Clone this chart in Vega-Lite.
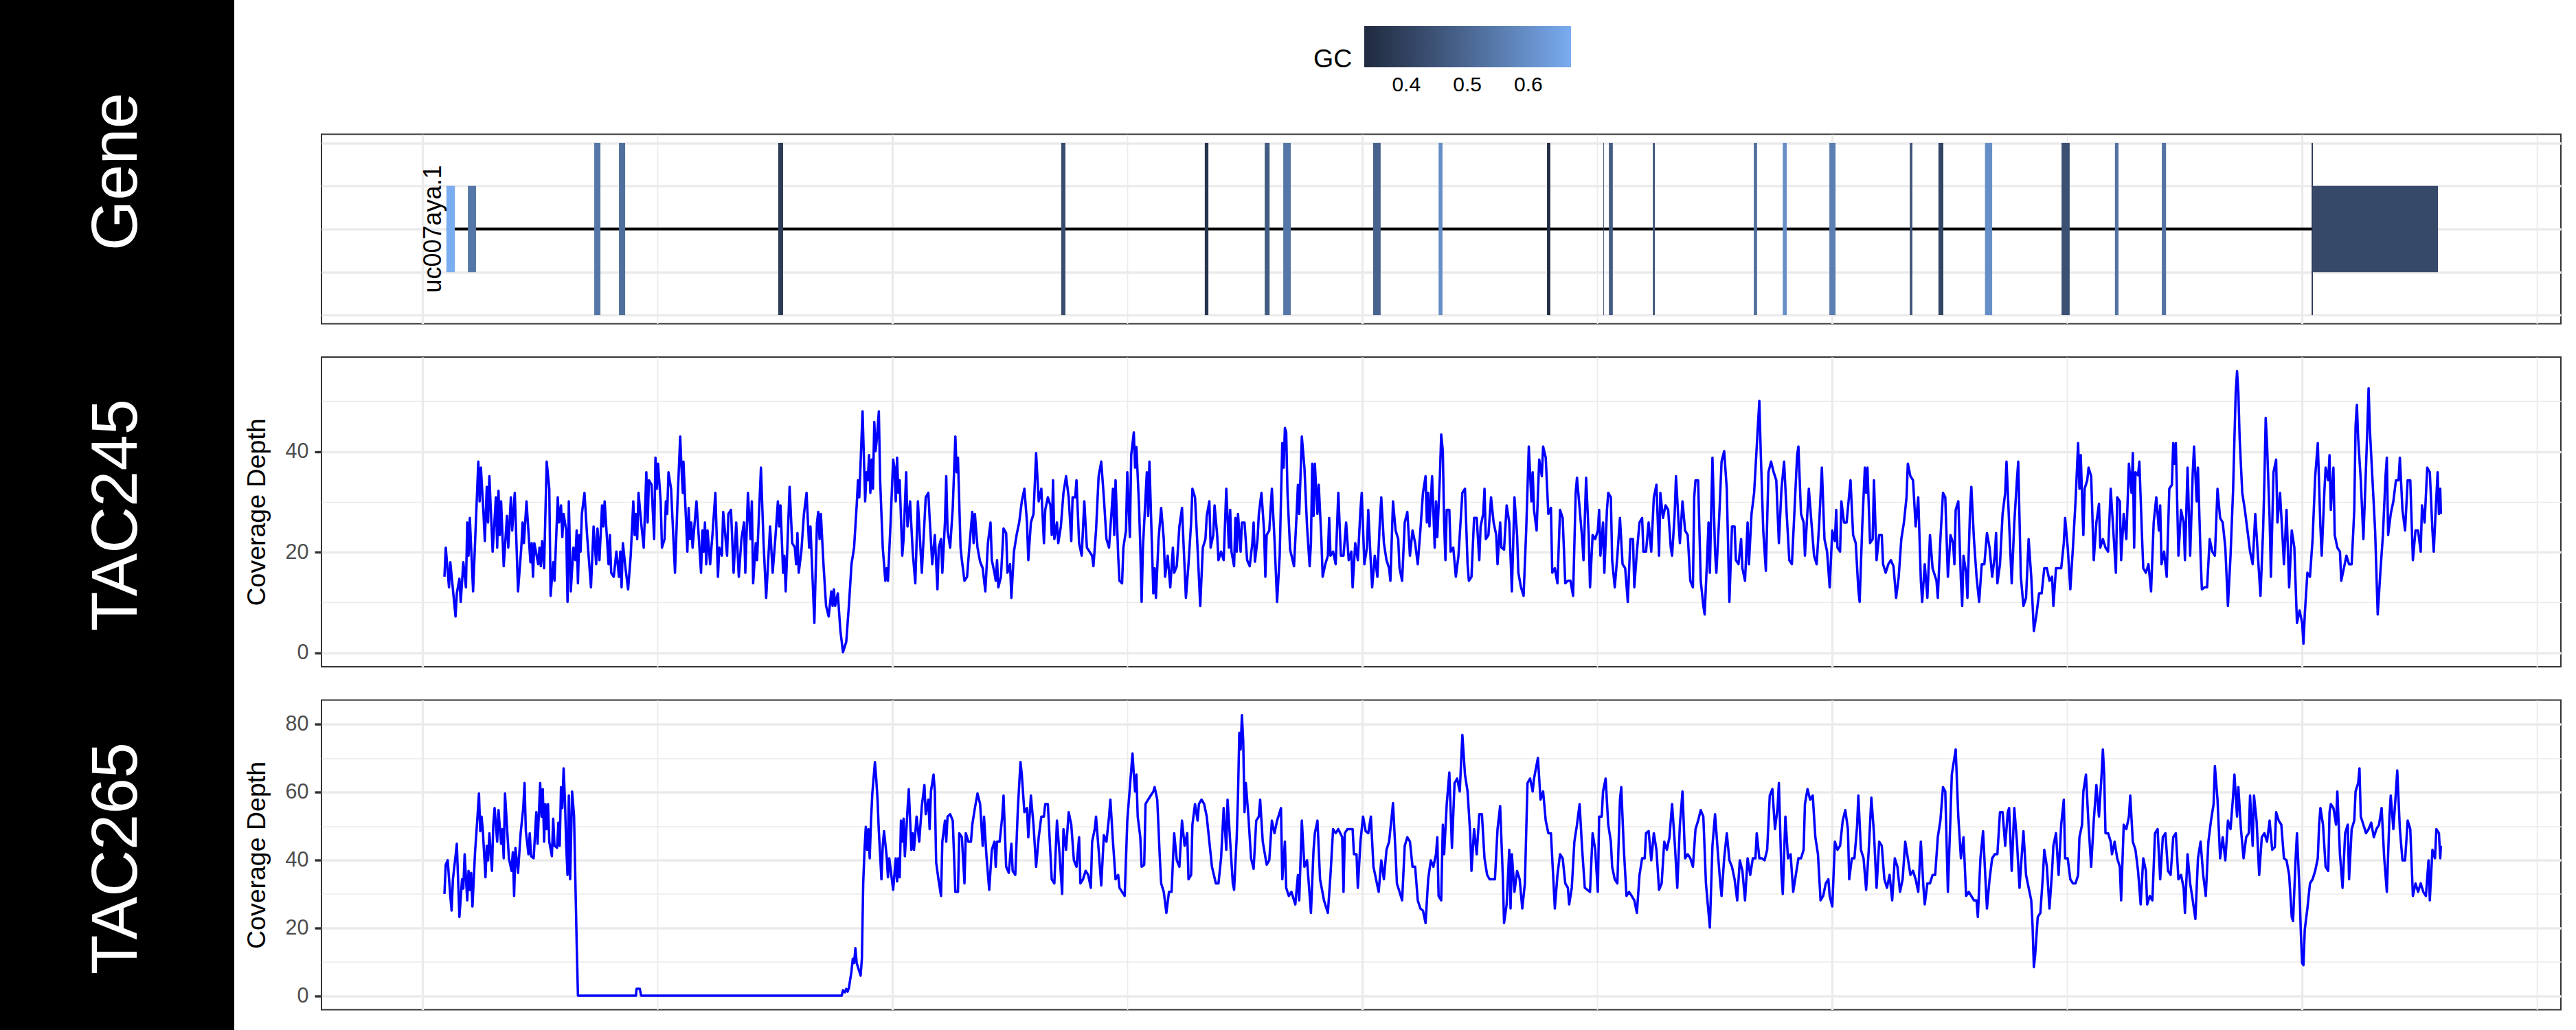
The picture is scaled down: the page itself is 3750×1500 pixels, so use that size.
{
"$schema": "https://vega.github.io/schema/vega-lite/v6.json",
"background": "white",
"padding": 0,
"bounds": "flush",
"spacing": 127,
"config": {"font": "Liberation Sans", "view": {"stroke": "#333333", "strokeWidth": 2}},
"datasets": {
"exons": [
{"start":1024,"end":1050,"GC":0.67,"type":"UTR"},
{"start":1090,"end":1115,"GC":0.54,"type":"UTR"},
{"start":1478,"end":1497,"GC":0.54,"type":"CDS"},
{"start":1554,"end":1573,"GC":0.52,"type":"CDS"},
{"start":2043,"end":2058,"GC":0.38,"type":"CDS"},
{"start":2912,"end":2925,"GC":0.43,"type":"CDS"},
{"start":3353,"end":3364,"GC":0.36,"type":"CDS"},
{"start":3537,"end":3552,"GC":0.47,"type":"CDS"},
{"start":3594,"end":3617,"GC":0.54,"type":"CDS"},
{"start":3870,"end":3893,"GC":0.49,"type":"CDS"},
{"start":4071,"end":4083,"GC":0.60,"type":"CDS"},
{"start":4404,"end":4414,"GC":0.331,"type":"CDS"},
{"start":4577,"end":4579,"GC":0.44,"type":"CDS"},
{"start":4594,"end":4606,"GC":0.47,"type":"CDS"},
{"start":4729,"end":4735,"GC":0.45,"type":"CDS"},
{"start":5039,"end":5049,"GC":0.52,"type":"CDS"},
{"start":5128,"end":5140,"GC":0.60,"type":"CDS"},
{"start":5271,"end":5290,"GC":0.56,"type":"CDS"},
{"start":5518,"end":5526,"GC":0.45,"type":"CDS"},
{"start":5606,"end":5621,"GC":0.41,"type":"CDS"},
{"start":5749,"end":5771,"GC":0.60,"type":"CDS"},
{"start":5984,"end":6009,"GC":0.44,"type":"CDS"},
{"start":6148,"end":6159,"GC":0.53,"type":"CDS"},
{"start":6292,"end":6305,"GC":0.53,"type":"CDS"},
{"start":6752,"end":6756,"GC":0.38,"type":"CDS"},
{"start":6756,"end":7140,"GC":0.42,"type":"UTR"}
],
"t245": [
{"p":1018,"d":15.1},{"p":1022,"d":20.9},{"p":1032,"d":13.0},{"p":1036,"d":18.0},{"p":1052,"d":7.2},{"p":1056,"d":11.8},{"p":1064,"d":14.7},{"p":1068,"d":10.1},{"p":1076,"d":18.0},{"p":1084,"d":13.0},{"p":1088,"d":25.9},{"p":1092,"d":19.3},{"p":1096,"d":26.8},{"p":1106,"d":12.2},{"p":1114,"d":25.1},{"p":1122,"d":38.0},{"p":1126,"d":30.1},{"p":1130,"d":36.8},{"p":1138,"d":27.6},{"p":1142,"d":22.2},{"p":1148,"d":33.0},{"p":1152,"d":25.9},{"p":1156,"d":35.1},{"p":1166,"d":20.1},{"p":1176,"d":30.9},{"p":1180,"d":20.9},{"p":1184,"d":32.2},{"p":1188,"d":23.4},{"p":1192,"d":30.1},{"p":1200,"d":17.2},{"p":1210,"d":27.2},{"p":1214,"d":20.9},{"p":1222,"d":30.9},{"p":1226,"d":24.3},{"p":1234,"d":31.8},{"p":1244,"d":12.2},{"p":1254,"d":20.9},{"p":1258,"d":25.9},{"p":1262,"d":21.8},{"p":1270,"d":30.1},{"p":1282,"d":18.0},{"p":1286,"d":21.8},{"p":1290,"d":15.1},{"p":1294,"d":21.8},{"p":1306,"d":17.6},{"p":1310,"d":20.9},{"p":1314,"d":17.2},{"p":1318,"d":22.2},{"p":1324,"d":16.8},{"p":1332,"d":38.0},{"p":1340,"d":32.6},{"p":1344,"d":11.3},{"p":1352,"d":18.0},{"p":1356,"d":14.3},{"p":1366,"d":30.9},{"p":1370,"d":25.9},{"p":1376,"d":29.3},{"p":1380,"d":23.0},{"p":1384,"d":27.6},{"p":1392,"d":24.3},{"p":1396,"d":10.1},{"p":1400,"d":30.1},{"p":1406,"d":12.2},{"p":1414,"d":20.9},{"p":1420,"d":18.4},{"p":1424,"d":24.3},{"p":1428,"d":13.8},{"p":1432,"d":23.4},{"p":1436,"d":20.1},{"p":1440,"d":27.6},{"p":1448,"d":31.8},{"p":1456,"d":23.4},{"p":1468,"d":13.0},{"p":1476,"d":25.1},{"p":1484,"d":17.6},{"p":1488,"d":24.7},{"p":1494,"d":18.4},{"p":1502,"d":29.3},{"p":1506,"d":25.1},{"p":1510,"d":30.1},{"p":1522,"d":17.6},{"p":1526,"d":23.4},{"p":1530,"d":15.9},{"p":1538,"d":15.1},{"p":1546,"d":20.1},{"p":1554,"d":15.1},{"p":1558,"d":20.1},{"p":1562,"d":13.0},{"p":1566,"d":21.8},{"p":1574,"d":16.8},{"p":1582,"d":12.6},{"p":1590,"d":19.3},{"p":1598,"d":30.1},{"p":1602,"d":23.4},{"p":1606,"d":27.6},{"p":1610,"d":22.6},{"p":1614,"d":31.8},{"p":1622,"d":25.9},{"p":1630,"d":20.9},{"p":1638,"d":35.9},{"p":1642,"d":25.9},{"p":1646,"d":34.3},{"p":1654,"d":33.4},{"p":1662,"d":22.6},{"p":1666,"d":38.8},{"p":1670,"d":32.6},{"p":1674,"d":37.6},{"p":1682,"d":30.1},{"p":1686,"d":20.9},{"p":1694,"d":22.6},{"p":1698,"d":30.1},{"p":1702,"d":27.6},{"p":1706,"d":35.9},{"p":1714,"d":32.6},{"p":1726,"d":15.9},{"p":1734,"d":30.5},{"p":1742,"d":43.0},{"p":1746,"d":36.8},{"p":1750,"d":31.8},{"p":1752,"d":38.0},{"p":1764,"d":20.1},{"p":1768,"d":28.8},{"p":1772,"d":22.6},{"p":1776,"d":25.9},{"p":1780,"d":20.9},{"p":1792,"d":30.1},{"p":1806,"d":15.9},{"p":1810,"d":24.3},{"p":1814,"d":20.1},{"p":1818,"d":25.9},{"p":1822,"d":17.6},{"p":1826,"d":24.3},{"p":1834,"d":17.6},{"p":1842,"d":24.3},{"p":1850,"d":31.8},{"p":1858,"d":15.1},{"p":1862,"d":20.9},{"p":1870,"d":19.3},{"p":1874,"d":28.0},{"p":1886,"d":19.3},{"p":1890,"d":27.6},{"p":1898,"d":28.4},{"p":1906,"d":15.9},{"p":1914,"d":25.9},{"p":1922,"d":15.1},{"p":1930,"d":22.6},{"p":1938,"d":25.9},{"p":1942,"d":15.9},{"p":1950,"d":31.8},{"p":1958,"d":22.6},{"p":1962,"d":30.1},{"p":1966,"d":13.8},{"p":1974,"d":21.8},{"p":1978,"d":18.4},{"p":1990,"d":36.8},{"p":1998,"d":21.8},{"p":2006,"d":10.9},{"p":2018,"d":25.1},{"p":2026,"d":15.9},{"p":2034,"d":22.6},{"p":2042,"d":30.1},{"p":2046,"d":25.1},{"p":2050,"d":29.3},{"p":2058,"d":15.9},{"p":2062,"d":19.3},{"p":2066,"d":12.2},{"p":2078,"d":33.0},{"p":2086,"d":21.8},{"p":2094,"d":20.9},{"p":2098,"d":17.6},{"p":2102,"d":23.8},{"p":2106,"d":15.9},{"p":2114,"d":20.1},{"p":2122,"d":27.6},{"p":2130,"d":31.8},{"p":2138,"d":20.9},{"p":2142,"d":25.1},{"p":2154,"d":5.9},{"p":2162,"d":25.9},{"p":2166,"d":28.0},{"p":2170,"d":22.6},{"p":2174,"d":27.6},{"p":2182,"d":17.6},{"p":2190,"d":9.3},{"p":2198,"d":7.2},{"p":2206,"d":12.2},{"p":2210,"d":9.3},{"p":2214,"d":12.6},{"p":2218,"d":9.3},{"p":2226,"d":11.8},{"p":2234,"d":4.3},{"p":2242,"d":0.1},{"p":2252,"d":2.2},{"p":2260,"d":9.3},{"p":2268,"d":17.6},{"p":2276,"d":20.9},{"p":2284,"d":29.3},{"p":2288,"d":34.3},{"p":2292,"d":30.9},{"p":2302,"d":48.0},{"p":2310,"d":30.1},{"p":2314,"d":35.9},{"p":2318,"d":34.3},{"p":2322,"d":39.3},{"p":2326,"d":31.8},{"p":2330,"d":38.4},{"p":2334,"d":32.6},{"p":2338,"d":45.9},{"p":2342,"d":40.1},{"p":2346,"d":42.6},{"p":2352,"d":48.0},{"p":2356,"d":34.3},{"p":2364,"d":20.9},{"p":2372,"d":14.3},{"p":2376,"d":16.8},{"p":2380,"d":14.3},{"p":2388,"d":25.9},{"p":2396,"d":38.4},{"p":2400,"d":36.8},{"p":2404,"d":30.1},{"p":2408,"d":38.8},{"p":2412,"d":31.8},{"p":2416,"d":34.3},{"p":2424,"d":19.3},{"p":2428,"d":22.6},{"p":2436,"d":35.9},{"p":2440,"d":25.1},{"p":2448,"d":30.1},{"p":2456,"d":20.1},{"p":2464,"d":13.8},{"p":2472,"d":30.1},{"p":2484,"d":15.9},{"p":2496,"d":30.9},{"p":2504,"d":31.8},{"p":2508,"d":26.8},{"p":2516,"d":17.6},{"p":2524,"d":23.4},{"p":2532,"d":12.6},{"p":2536,"d":20.9},
{"p":2543,"d":22.6},{"p":2547,"d":15.9},{"p":2555,"d":25.9},{"p":2559,"d":35.1},{"p":2563,"d":24.3},{"p":2571,"d":20.9},{"p":2579,"d":28.8},{"p":2587,"d":43.0},{"p":2591,"d":35.9},{"p":2595,"d":38.8},{"p":2603,"d":20.9},{"p":2607,"d":18.4},{"p":2615,"d":14.3},{"p":2623,"d":15.1},{"p":2631,"d":21.8},{"p":2639,"d":28.0},{"p":2643,"d":21.8},{"p":2647,"d":27.6},{"p":2655,"d":20.9},{"p":2663,"d":18.1},{"p":2671,"d":16.8},{"p":2679,"d":12.2},{"p":2687,"d":21.8},{"p":2695,"d":25.9},{"p":2699,"d":18.4},{"p":2707,"d":15.9},{"p":2711,"d":14.3},{"p":2715,"d":18.4},{"p":2719,"d":13.0},{"p":2727,"d":15.1},{"p":2735,"d":24.7},{"p":2743,"d":23.8},{"p":2747,"d":15.9},{"p":2755,"d":17.6},{"p":2759,"d":10.9},{"p":2767,"d":20.1},{"p":2775,"d":23.4},{"p":2783,"d":25.9},{"p":2791,"d":30.1},{"p":2799,"d":32.6},{"p":2807,"d":25.9},{"p":2811,"d":18.4},{"p":2819,"d":25.9},{"p":2827,"d":27.6},{"p":2835,"d":39.7},{"p":2843,"d":30.1},{"p":2851,"d":32.6},{"p":2859,"d":21.8},{"p":2863,"d":28.4},{"p":2871,"d":30.9},{"p":2879,"d":29.3},{"p":2883,"d":23.4},{"p":2887,"d":34.3},{"p":2891,"d":22.6},{"p":2899,"d":25.9},{"p":2903,"d":21.8},{"p":2911,"d":25.1},{"p":2919,"d":31.8},{"p":2927,"d":35.1},{"p":2935,"d":30.9},{"p":2943,"d":22.2},{"p":2947,"d":30.9},{"p":2955,"d":30.9},{"p":2959,"d":34.3},{"p":2967,"d":21.8},{"p":2975,"d":19.3},{"p":2983,"d":30.1},{"p":2991,"d":20.9},{"p":2999,"d":20.1},{"p":3007,"d":19.3},{"p":3011,"d":17.2},{"p":3019,"d":24.3},{"p":3027,"d":35.1},{"p":3035,"d":38.0},{"p":3043,"d":30.9},{"p":3051,"d":22.6},{"p":3059,"d":20.9},{"p":3067,"d":28.4},{"p":3071,"d":32.6},{"p":3075,"d":23.4},{"p":3079,"d":34.3},{"p":3087,"d":19.3},{"p":3091,"d":14.3},{"p":3099,"d":13.8},{"p":3103,"d":20.9},{"p":3111,"d":24.3},{"p":3115,"d":35.9},{"p":3123,"d":23.0},{"p":3127,"d":39.3},{"p":3135,"d":43.8},{"p":3139,"d":36.8},{"p":3143,"d":40.9},{"p":3151,"d":29.3},{"p":3155,"d":20.9},{"p":3159,"d":10.1},{"p":3163,"d":20.9},{"p":3171,"d":30.9},{"p":3175,"d":35.9},{"p":3179,"d":27.2},{"p":3183,"d":38.0},{"p":3187,"d":29.3},{"p":3195,"d":11.8},{"p":3199,"d":16.8},{"p":3203,"d":10.9},{"p":3211,"d":22.6},{"p":3219,"d":28.8},{"p":3227,"d":22.6},{"p":3231,"d":15.1},{"p":3239,"d":19.3},{"p":3247,"d":13.0},{"p":3255,"d":20.9},{"p":3259,"d":15.9},{"p":3267,"d":17.2},{"p":3275,"d":25.1},{"p":3283,"d":28.8},{"p":3291,"d":16.8},{"p":3295,"d":10.9},{"p":3303,"d":17.6},{"p":3311,"d":25.9},{"p":3315,"d":32.6},{"p":3323,"d":30.9},{"p":3331,"d":20.5},{"p":3339,"d":9.3},{"p":3347,"d":20.9},{"p":3355,"d":22.6},{"p":3359,"d":27.2},{"p":3367,"d":30.1},{"p":3371,"d":20.9},{"p":3379,"d":23.4},{"p":3383,"d":29.3},{"p":3391,"d":23.4},{"p":3395,"d":18.4},{"p":3403,"d":20.1},{"p":3411,"d":18.4},{"p":3419,"d":32.6},{"p":3427,"d":20.9},{"p":3431,"d":28.4},{"p":3435,"d":20.1},{"p":3443,"d":17.2},{"p":3447,"d":26.8},{"p":3451,"d":20.1},{"p":3455,"d":27.6},{"p":3463,"d":20.1},{"p":3467,"d":25.9},{"p":3475,"d":25.9},{"p":3483,"d":18.4},{"p":3491,"d":17.2},{"p":3499,"d":21.8},{"p":3503,"d":25.9},{"p":3507,"d":18.1},{"p":3515,"d":22.6},{"p":3519,"d":27.6},{"p":3527,"d":31.8},{"p":3535,"d":24.3},{"p":3539,"d":15.1},{"p":3543,"d":23.4},{"p":3551,"d":24.3},{"p":3559,"d":32.6},{"p":3567,"d":22.6},{"p":3575,"d":10.1},{"p":3583,"d":19.3},{"p":3591,"d":41.7},{"p":3595,"d":36.8},{"p":3599,"d":44.7},{"p":3603,"d":43.8},{"p":3607,"d":31.8},{"p":3615,"d":20.5},{"p":3627,"d":17.2},{"p":3635,"d":27.6},{"p":3639,"d":33.4},{"p":3643,"d":27.6},{"p":3651,"d":43.0},{"p":3659,"d":36.8},{"p":3667,"d":25.1},{"p":3675,"d":17.2},{"p":3679,"d":21.8},{"p":3683,"d":37.6},{"p":3687,"d":27.2},{"p":3691,"d":37.6},{"p":3699,"d":27.6},{"p":3703,"d":33.4},{"p":3711,"d":22.6},{"p":3715,"d":15.1},{"p":3723,"d":17.6},{"p":3731,"d":19.3},{"p":3735,"d":26.8},{"p":3739,"d":19.3},{"p":3747,"d":20.1},{"p":3755,"d":17.6},{"p":3763,"d":31.8},{"p":3771,"d":19.3},{"p":3779,"d":19.3},{"p":3787,"d":25.9},{"p":3795,"d":18.4},{"p":3803,"d":20.1},{"p":3807,"d":13.0},{"p":3815,"d":21.8},{"p":3823,"d":18.4},{"p":3831,"d":28.4},{"p":3835,"d":31.8},{"p":3843,"d":17.6},{"p":3851,"d":20.9},{"p":3855,"d":28.4},{"p":3863,"d":17.6},{"p":3867,"d":13.0},{"p":3875,"d":19.3},{"p":3883,"d":15.1},{"p":3891,"d":26.8},{"p":3895,"d":30.9},{"p":3903,"d":21.8},{"p":3911,"d":18.4},{"p":3919,"d":16.8},{"p":3923,"d":14.3},{"p":3931,"d":30.1},{"p":3939,"d":24.3},{"p":3947,"d":22.6},{"p":3951,"d":16.8},{"p":3959,"d":14.3},{"p":3967,"d":25.9},{"p":3975,"d":28.0},{"p":3983,"d":19.3},{"p":3991,"d":24.3},{"p":3999,"d":21.8},{"p":4007,"d":17.6},{"p":4015,"d":24.3},{"p":4023,"d":31.8},{"p":4031,"d":35.1},{"p":4035,"d":25.9},{"p":4039,"d":31.8},{"p":4043,"d":25.1},{"p":4051,"d":35.1},{"p":4059,"d":20.9},{"p":4063,"d":30.1},{"p":4067,"d":23.0},{"p":4075,"d":35.1},{"p":4079,"d":43.4},
{"p":4084,"d":40.1},{"p":4088,"d":25.9},{"p":4092,"d":18.4},{"p":4096,"d":28.4},{"p":4104,"d":28.4},{"p":4108,"d":20.1},{"p":4116,"d":20.9},{"p":4124,"d":15.1},{"p":4132,"d":19.3},{"p":4140,"d":27.6},{"p":4144,"d":31.8},{"p":4152,"d":32.6},{"p":4160,"d":17.6},{"p":4164,"d":14.3},{"p":4172,"d":15.1},{"p":4180,"d":26.8},{"p":4188,"d":26.8},{"p":4196,"d":18.4},{"p":4200,"d":25.1},{"p":4208,"d":27.6},{"p":4212,"d":32.6},{"p":4216,"d":22.6},{"p":4224,"d":23.4},{"p":4232,"d":30.9},{"p":4240,"d":25.9},{"p":4248,"d":23.4},{"p":4252,"d":17.6},{"p":4260,"d":25.9},{"p":4264,"d":20.9},{"p":4272,"d":20.5},{"p":4280,"d":29.3},{"p":4288,"d":25.9},{"p":4296,"d":12.2},{"p":4304,"d":30.9},{"p":4312,"d":23.4},{"p":4316,"d":15.9},{"p":4324,"d":13.0},{"p":4332,"d":11.3},{"p":4340,"d":24.3},{"p":4348,"d":41.0},{"p":4356,"d":30.1},{"p":4360,"d":35.9},{"p":4364,"d":28.4},{"p":4372,"d":24.3},{"p":4380,"d":38.4},{"p":4388,"d":35.1},{"p":4392,"d":41.0},{"p":4400,"d":38.8},{"p":4408,"d":27.6},{"p":4416,"d":28.8},{"p":4420,"d":15.9},{"p":4428,"d":16.8},{"p":4436,"d":13.8},{"p":4444,"d":28.4},{"p":4452,"d":26.8},{"p":4460,"d":13.8},{"p":4468,"d":14.3},{"p":4476,"d":14.3},{"p":4484,"d":11.3},{"p":4492,"d":31.8},{"p":4496,"d":34.8},{"p":4504,"d":28.8},{"p":4512,"d":22.6},{"p":4516,"d":18.4},{"p":4524,"d":34.8},{"p":4532,"d":23.4},{"p":4536,"d":13.0},{"p":4544,"d":23.4},{"p":4552,"d":22.6},{"p":4560,"d":24.3},{"p":4564,"d":28.4},{"p":4568,"d":19.3},{"p":4576,"d":25.9},{"p":4580,"d":15.9},{"p":4588,"d":28.4},{"p":4592,"d":31.8},{"p":4600,"d":30.9},{"p":4604,"d":18.4},{"p":4612,"d":13.0},{"p":4620,"d":19.3},{"p":4628,"d":26.8},{"p":4636,"d":17.6},{"p":4644,"d":16.8},{"p":4652,"d":10.1},{"p":4660,"d":22.6},{"p":4668,"d":22.6},{"p":4672,"d":13.0},{"p":4680,"d":20.1},{"p":4688,"d":25.9},{"p":4696,"d":26.8},{"p":4700,"d":20.1},{"p":4708,"d":20.1},{"p":4716,"d":25.9},{"p":4724,"d":20.1},{"p":4732,"d":30.9},{"p":4740,"d":33.4},{"p":4748,"d":19.3},{"p":4752,"d":31.8},{"p":4760,"d":26.8},{"p":4768,"d":29.3},{"p":4776,"d":28.4},{"p":4784,"d":20.9},{"p":4788,"d":19.3},{"p":4796,"d":27.6},{"p":4800,"d":35.1},{"p":4808,"d":25.9},{"p":4812,"d":21.8},{"p":4820,"d":30.1},{"p":4828,"d":24.3},{"p":4836,"d":23.4},{"p":4844,"d":14.3},{"p":4852,"d":13.0},{"p":4856,"d":30.9},{"p":4860,"d":34.3},{"p":4868,"d":34.3},{"p":4876,"d":14.3},{"p":4884,"d":9.3},{"p":4888,"d":7.6},{"p":4896,"d":19.3},{"p":4900,"d":25.9},{"p":4904,"d":15.9},{"p":4912,"d":38.8},{"p":4920,"d":20.1},{"p":4924,"d":15.9},{"p":4932,"d":25.9},{"p":4940,"d":38.0},{"p":4948,"d":40.1},{"p":4956,"d":32.6},{"p":4964,"d":10.1},{"p":4972,"d":25.1},{"p":4980,"d":25.1},{"p":4984,"d":18.4},{"p":4992,"d":17.6},{"p":5000,"d":22.6},{"p":5004,"d":16.8},{"p":5012,"d":14.3},{"p":5020,"d":25.9},{"p":5024,"d":17.6},{"p":5032,"d":27.6},{"p":5040,"d":31.8},{"p":5048,"d":41.0},{"p":5056,"d":50.1},{"p":5060,"d":40.5},{"p":5068,"d":24.3},{"p":5076,"d":16.3},{"p":5084,"d":35.9},{"p":5092,"d":38.0},{"p":5100,"d":35.9},{"p":5108,"d":34.3},{"p":5116,"d":21.8},{"p":5124,"d":32.6},{"p":5132,"d":38.0},{"p":5140,"d":27.6},{"p":5148,"d":18.4},{"p":5156,"d":17.6},{"p":5164,"d":28.4},{"p":5172,"d":39.3},{"p":5176,"d":41.0},{"p":5184,"d":27.6},{"p":5192,"d":25.9},{"p":5196,"d":19.3},{"p":5204,"d":28.4},{"p":5208,"d":32.6},{"p":5216,"d":25.9},{"p":5224,"d":19.3},{"p":5232,"d":17.6},{"p":5240,"d":25.9},{"p":5248,"d":36.8},{"p":5256,"d":22.6},{"p":5264,"d":20.1},{"p":5272,"d":13.0},{"p":5280,"d":24.3},{"p":5288,"d":22.2},{"p":5292,"d":28.4},{"p":5296,"d":20.9},{"p":5304,"d":20.1},{"p":5308,"d":30.1},{"p":5316,"d":25.9},{"p":5324,"d":25.9},{"p":5336,"d":34.3},{"p":5344,"d":23.4},{"p":5352,"d":21.8},{"p":5360,"d":12.6},{"p":5364,"d":10.1},{"p":5372,"d":25.1},{"p":5380,"d":36.8},{"p":5384,"d":31.8},{"p":5388,"d":36.8},{"p":5396,"d":21.8},{"p":5404,"d":22.6},{"p":5408,"d":34.3},{"p":5416,"d":18.4},{"p":5424,"d":23.4},{"p":5432,"d":23.4},{"p":5436,"d":17.6},{"p":5444,"d":15.9},{"p":5452,"d":17.6},{"p":5460,"d":18.4},{"p":5468,"d":17.2},{"p":5476,"d":10.9},{"p":5484,"d":15.1},{"p":5492,"d":22.6},{"p":5500,"d":25.9},{"p":5508,"d":30.9},{"p":5512,"d":37.6},{"p":5520,"d":35.1},{"p":5528,"d":34.3},{"p":5536,"d":25.1},{"p":5544,"d":30.9},{"p":5552,"d":14.3},{"p":5556,"d":10.1},{"p":5564,"d":17.6},{"p":5572,"d":10.9},{"p":5580,"d":23.4},{"p":5588,"d":16.8},{"p":5600,"d":14.3},{"p":5604,"d":10.9},{"p":5612,"d":22.6},{"p":5620,"d":31.8},
{"p":5627,"d":30.9},{"p":5635,"d":15.1},{"p":5643,"d":23.4},{"p":5651,"d":21.8},{"p":5655,"d":17.6},{"p":5659,"d":28.4},{"p":5667,"d":30.1},{"p":5675,"d":14.3},{"p":5679,"d":9.3},{"p":5683,"d":19.3},{"p":5691,"d":15.9},{"p":5695,"d":10.9},{"p":5703,"d":28.4},{"p":5707,"d":33.0},{"p":5715,"d":22.6},{"p":5723,"d":15.1},{"p":5731,"d":10.1},{"p":5739,"d":17.6},{"p":5747,"d":17.6},{"p":5755,"d":23.8},{"p":5763,"d":20.9},{"p":5771,"d":15.1},{"p":5779,"d":19.3},{"p":5783,"d":23.8},{"p":5787,"d":13.8},{"p":5795,"d":17.6},{"p":5803,"d":27.6},{"p":5811,"d":31.8},{"p":5815,"d":38.0},{"p":5823,"d":25.9},{"p":5831,"d":13.8},{"p":5839,"d":25.9},{"p":5847,"d":34.3},{"p":5851,"d":38.0},{"p":5859,"d":15.1},{"p":5867,"d":9.3},{"p":5875,"d":10.9},{"p":5883,"d":22.6},{"p":5891,"d":15.1},{"p":5899,"d":4.3},{"p":5907,"d":7.6},{"p":5915,"d":11.8},{"p":5923,"d":11.8},{"p":5931,"d":16.8},{"p":5939,"d":16.8},{"p":5947,"d":14.3},{"p":5955,"d":15.1},{"p":5959,"d":9.3},{"p":5967,"d":16.8},{"p":5975,"d":16.8},{"p":5983,"d":16.8},{"p":5991,"d":21.8},{"p":5995,"d":26.8},{"p":6003,"d":20.9},{"p":6011,"d":12.6},{"p":6019,"d":20.9},{"p":6027,"d":30.1},{"p":6035,"d":41.7},{"p":6039,"d":32.6},{"p":6043,"d":39.3},{"p":6051,"d":23.4},{"p":6055,"d":32.6},{"p":6063,"d":34.3},{"p":6067,"d":36.8},{"p":6075,"d":35.1},{"p":6083,"d":18.4},{"p":6091,"d":25.9},{"p":6099,"d":29.6},{"p":6103,"d":20.9},{"p":6111,"d":22.6},{"p":6119,"d":20.9},{"p":6127,"d":20.1},{"p":6135,"d":32.6},{"p":6143,"d":24.3},{"p":6151,"d":15.9},{"p":6155,"d":30.9},{"p":6163,"d":30.1},{"p":6167,"d":18.4},{"p":6175,"d":27.6},{"p":6183,"d":22.6},{"p":6191,"d":37.6},{"p":6199,"d":31.8},{"p":6203,"d":39.7},{"p":6207,"d":20.9},{"p":6211,"d":35.9},{"p":6219,"d":35.3},{"p":6223,"d":38.0},{"p":6231,"d":23.4},{"p":6235,"d":16.8},{"p":6243,"d":15.9},{"p":6251,"d":17.6},{"p":6259,"d":12.2},{"p":6267,"d":25.9},{"p":6275,"d":30.9},{"p":6283,"d":24.3},{"p":6287,"d":29.3},{"p":6291,"d":17.6},{"p":6299,"d":20.1},{"p":6307,"d":15.1},{"p":6315,"d":32.6},{"p":6323,"d":33.4},{"p":6327,"d":41.7},{"p":6331,"d":37.6},{"p":6335,"d":41.7},{"p":6343,"d":19.3},{"p":6351,"d":28.4},{"p":6359,"d":25.9},{"p":6363,"d":18.4},{"p":6371,"d":36.8},{"p":6379,"d":19.3},{"p":6387,"d":35.9},{"p":6391,"d":41.0},{"p":6399,"d":30.1},{"p":6403,"d":36.8},{"p":6411,"d":19.3},{"p":6415,"d":12.6},{"p":6423,"d":13.0},{"p":6431,"d":13.0},{"p":6439,"d":22.6},{"p":6447,"d":20.1},{"p":6455,"d":19.3},{"p":6463,"d":32.6},{"p":6471,"d":26.8},{"p":6479,"d":25.9},{"p":6487,"d":20.9},{"p":6495,"d":9.3},{"p":6503,"d":19.3},{"p":6511,"d":32.6},{"p":6515,"d":42.6},{"p":6519,"d":51.8},{"p":6523,"d":56.0},{"p":6527,"d":51.8},{"p":6531,"d":42.6},{"p":6539,"d":31.8},{"p":6547,"d":28.4},{"p":6555,"d":24.3},{"p":6563,"d":20.1},{"p":6571,"d":17.6},{"p":6579,"d":27.6},{"p":6587,"d":19.3},{"p":6595,"d":11.3},{"p":6603,"d":24.3},{"p":6607,"d":34.3},{"p":6611,"d":46.7},{"p":6615,"d":41.7},{"p":6623,"d":26.8},{"p":6627,"d":15.1},{"p":6635,"d":35.9},{"p":6643,"d":38.4},{"p":6647,"d":25.9},{"p":6655,"d":31.8},{"p":6663,"d":22.6},{"p":6667,"d":17.6},{"p":6675,"d":28.4},{"p":6683,"d":13.0},{"p":6691,"d":24.3},{"p":6699,"d":20.9},{"p":6707,"d":5.9},{"p":6715,"d":8.4},{"p":6723,"d":5.9},{"p":6727,"d":1.8},{"p":6731,"d":7.6},{"p":6739,"d":15.9},{"p":6747,"d":15.1},{"p":6755,"d":22.6},{"p":6763,"d":35.1},{"p":6771,"d":41.7},{"p":6779,"d":25.1},{"p":6783,"d":19.3},{"p":6791,"d":31.8},{"p":6795,"d":36.8},{"p":6803,"d":34.3},{"p":6807,"d":39.3},{"p":6811,"d":28.4},{"p":6819,"d":36.8},{"p":6823,"d":23.4},{"p":6831,"d":20.9},{"p":6839,"d":20.1},{"p":6843,"d":14.3},{"p":6851,"d":16.8},{"p":6859,"d":19.3},{"p":6867,"d":17.6},{"p":6875,"d":17.6},{"p":6883,"d":28.4},{"p":6887,"d":45.1},{"p":6891,"d":49.3},{"p":6895,"d":42.6},{"p":6903,"d":34.3},{"p":6911,"d":22.6},{"p":6919,"d":36.8},{"p":6923,"d":44.3},{"p":6927,"d":52.6},{"p":6931,"d":44.3},{"p":6939,"d":34.3},{"p":6947,"d":24.3},{"p":6955,"d":7.6},{"p":6963,"d":15.9},{"p":6971,"d":23.4},{"p":6979,"d":35.1},{"p":6983,"d":38.8},{"p":6987,"d":23.4},{"p":6995,"d":27.6},{"p":7003,"d":30.1},{"p":7011,"d":34.3},{"p":7019,"d":34.3},{"p":7023,"d":38.8},{"p":7031,"d":28.4},{"p":7039,"d":24.3},{"p":7047,"d":34.3},{"p":7055,"d":34.3},{"p":7063,"d":18.4},{"p":7071,"d":24.3},{"p":7079,"d":24.3},{"p":7087,"d":20.1},{"p":7091,"d":29.3},{"p":7099,"d":25.9},{"p":7107,"d":36.8},{"p":7115,"d":35.9},{"p":7123,"d":24.3},{"p":7127,"d":20.1},{"p":7135,"d":30.9},{"p":7139,"d":35.9},{"p":7143,"d":27.6},{"p":7147,"d":32.6},{"p":7149,"d":27.6}
],
"t265": [
{"p":1018,"d":30.0},{"p":1022,"d":38.6},{"p":1028,"d":39.9},{"p":1036,"d":29.4},{"p":1040,"d":25.1},{"p":1044,"d":34.3},{"p":1052,"d":41.1},{"p":1056,"d":44.8},{"p":1064,"d":23.2},{"p":1072,"d":34.3},{"p":1076,"d":31.6},{"p":1080,"d":41.7},{"p":1088,"d":28.1},{"p":1092,"d":36.8},{"p":1096,"d":31.2},{"p":1100,"d":36.2},{"p":1104,"d":26.3},{"p":1112,"d":42.3},{"p":1120,"d":53.5},{"p":1124,"d":59.6},{"p":1128,"d":48.5},{"p":1132,"d":52.8},{"p":1136,"d":48.5},{"p":1144,"d":34.9},{"p":1148,"d":44.2},{"p":1152,"d":39.9},{"p":1156,"d":47.9},{"p":1164,"d":36.8},{"p":1168,"d":50.4},{"p":1172,"d":55.3},{"p":1180,"d":45.4},{"p":1184,"d":54.7},{"p":1192,"d":44.8},{"p":1196,"d":49.1},{"p":1200,"d":40.5},{"p":1204,"d":59.6},{"p":1212,"d":46.7},{"p":1216,"d":40.5},{"p":1224,"d":36.8},{"p":1228,"d":42.3},{"p":1232,"d":29.4},{"p":1236,"d":43.6},{"p":1244,"d":36.2},{"p":1252,"d":47.9},{"p":1260,"d":55.3},{"p":1264,"d":62.7},{"p":1268,"d":48.5},{"p":1276,"d":41.7},{"p":1280,"d":47.9},{"p":1284,"d":41.1},{"p":1292,"d":40.5},{"p":1300,"d":54.1},{"p":1304,"d":44.8},{"p":1312,"d":62.7},{"p":1316,"d":52.8},{"p":1320,"d":60.9},{"p":1324,"d":45.4},{"p":1328,"d":56.5},{"p":1332,"d":49.1},{"p":1336,"d":56.5},{"p":1340,"d":45.4},{"p":1348,"d":41.1},{"p":1352,"d":52.2},{"p":1356,"d":44.2},{"p":1364,"d":43.6},{"p":1368,"d":51.0},{"p":1372,"d":44.2},{"p":1376,"d":61.5},{"p":1380,"d":55.3},{"p":1384,"d":67.0},{"p":1388,"d":57.8},{"p":1392,"d":44.2},{"p":1396,"d":35.6},{"p":1400,"d":59.0},{"p":1404,"d":34.3},{"p":1410,"d":60.2},{"p":1416,"d":53.0},{"p":1420,"d":34.3},{"p":1424,"d":15.8},{"p":1428,"d":0},{"p":1606,"d":0},{"p":1608,"d":2.0},{"p":1618,"d":2.0},{"p":1622,"d":0},{"p":2238,"d":0},{"p":2242,"d":1.6},{"p":2248,"d":1.0},{"p":2252,"d":2.0},{"p":2256,"d":1.2},{"p":2260,"d":2.2},{"p":2264,"d":4.7},{"p":2268,"d":7.2},{"p":2272,"d":10.9},{"p":2276,"d":9.6},{"p":2280,"d":14.0},{"p":2284,"d":9.6},{"p":2292,"d":7.2},{"p":2296,"d":5.9},{"p":2300,"d":10.9},{"p":2304,"d":33.1},{"p":2308,"d":43.0},{"p":2312,"d":49.8},{"p":2316,"d":43.0},{"p":2320,"d":49.1},{"p":2324,"d":40.5},{"p":2328,"d":51.6},{"p":2332,"d":59.6},{"p":2340,"d":68.9},{"p":2344,"d":64.0},{"p":2348,"d":57.8},{"p":2352,"d":48.5},{"p":2360,"d":34.3},{"p":2364,"d":44.2},{"p":2368,"d":48.5},{"p":2376,"d":41.1},{"p":2380,"d":34.9},{"p":2384,"d":40.5},{"p":2396,"d":31.2},{"p":2404,"d":40.5},{"p":2408,"d":33.7},{"p":2412,"d":40.5},{"p":2416,"d":34.9},{"p":2420,"d":51.6},{"p":2424,"d":45.4},{"p":2428,"d":52.2},{"p":2432,"d":41.1},{"p":2440,"d":54.7},{"p":2444,"d":60.9},{"p":2452,"d":43.0},{"p":2456,"d":47.9},{"p":2460,"d":43.0},{"p":2468,"d":52.8},{"p":2476,"d":45.4},{"p":2484,"d":55.9},{"p":2492,"d":62.1},{"p":2496,"d":53.5},{"p":2504,"d":57.8},{"p":2508,"d":49.1},{"p":2512,"d":60.2},{"p":2520,"d":65.2},{"p":2524,"d":60.2},{"p":2528,"d":39.3},{"p":2536,"d":33.7},
{"p":2543,"d":29.4},{"p":2547,"d":45.4},{"p":2555,"d":51.6},{"p":2559,"d":45.4},{"p":2563,"d":52.8},{"p":2571,"d":53.5},{"p":2579,"d":51.6},{"p":2587,"d":30.6},{"p":2595,"d":30.6},{"p":2599,"d":47.9},{"p":2607,"d":46.7},{"p":2615,"d":33.1},{"p":2619,"d":47.9},{"p":2627,"d":45.4},{"p":2635,"d":45.4},{"p":2639,"d":50.4},{"p":2647,"d":55.3},{"p":2655,"d":59.6},{"p":2663,"d":56.5},{"p":2671,"d":44.2},{"p":2675,"d":52.8},{"p":2683,"d":40.5},{"p":2691,"d":31.2},{"p":2699,"d":43.0},{"p":2707,"d":45.4},{"p":2711,"d":38.0},{"p":2715,"d":45.4},{"p":2723,"d":45.4},{"p":2731,"d":52.8},{"p":2735,"d":59.0},{"p":2743,"d":38.0},{"p":2751,"d":36.2},{"p":2759,"d":44.8},{"p":2763,"d":36.8},{"p":2771,"d":35.6},{"p":2779,"d":55.3},{"p":2787,"d":68.9},{"p":2791,"d":65.2},{"p":2799,"d":54.1},{"p":2807,"d":55.3},{"p":2811,"d":46.7},{"p":2819,"d":59.0},{"p":2827,"d":50.4},{"p":2835,"d":38.0},{"p":2843,"d":46.7},{"p":2851,"d":52.8},{"p":2859,"d":52.8},{"p":2863,"d":56.5},{"p":2871,"d":56.5},{"p":2879,"d":41.7},{"p":2883,"d":34.3},{"p":2891,"d":33.1},{"p":2899,"d":51.6},{"p":2907,"d":41.7},{"p":2915,"d":30.0},{"p":2919,"d":49.1},{"p":2927,"d":43.0},{"p":2935,"d":54.1},{"p":2943,"d":50.4},{"p":2951,"d":39.9},{"p":2959,"d":38.0},{"p":2967,"d":46.7},{"p":2971,"d":33.1},{"p":2979,"d":34.3},{"p":2987,"d":36.8},{"p":2995,"d":35.6},{"p":3003,"d":31.8},{"p":3007,"d":45.4},{"p":3015,"d":49.1},{"p":3019,"d":52.8},{"p":3027,"d":43.0},{"p":3035,"d":32.5},{"p":3043,"d":47.3},{"p":3051,"d":45.4},{"p":3059,"d":52.8},{"p":3063,"d":57.8},{"p":3071,"d":45.4},{"p":3079,"d":34.3},{"p":3087,"d":35.6},{"p":3091,"d":31.8},{"p":3099,"d":30.6},{"p":3107,"d":29.4},{"p":3115,"d":51.6},{"p":3123,"d":61.5},{"p":3131,"d":71.4},{"p":3135,"d":65.2},{"p":3139,"d":60.2},{"p":3143,"d":65.2},{"p":3147,"d":52.8},{"p":3155,"d":46.7},{"p":3159,"d":38.0},{"p":3167,"d":38.6},{"p":3171,"d":56.5},{"p":3179,"d":57.8},{"p":3187,"d":59.0},{"p":3195,"d":60.2},{"p":3199,"d":61.5},{"p":3207,"d":57.8},{"p":3215,"d":40.5},{"p":3219,"d":33.1},{"p":3227,"d":30.6},{"p":3235,"d":24.4},{"p":3243,"d":30.6},{"p":3251,"d":30.6},{"p":3259,"d":47.9},{"p":3267,"d":39.9},{"p":3275,"d":38.0},{"p":3283,"d":51.6},{"p":3291,"d":44.2},{"p":3299,"d":47.9},{"p":3303,"d":34.3},{"p":3311,"d":35.6},{"p":3315,"d":50.4},{"p":3323,"d":56.5},{"p":3331,"d":51.6},{"p":3335,"d":56.5},{"p":3343,"d":57.8},{"p":3351,"d":56.5},{"p":3359,"d":52.8},{"p":3367,"d":45.4},{"p":3375,"d":38.0},{"p":3387,"d":33.1},{"p":3395,"d":33.1},{"p":3403,"d":40.5},{"p":3411,"d":55.3},{"p":3419,"d":43.0},{"p":3423,"d":57.8},{"p":3431,"d":45.4},{"p":3439,"d":33.1},{"p":3443,"d":31.2},{"p":3451,"d":46.7},{"p":3455,"d":59.0},{"p":3459,"d":77.5},{"p":3463,"d":72.6},{"p":3467,"d":82.7},{"p":3471,"d":75.1},{"p":3475,"d":54.1},{"p":3479,"d":62.7},{"p":3487,"d":52.8},{"p":3495,"d":40.5},{"p":3503,"d":37.4},{"p":3511,"d":51.6},{"p":3519,"d":52.8},{"p":3523,"d":57.8},{"p":3531,"d":45.4},{"p":3543,"d":38.6},{"p":3551,"d":39.9},{"p":3559,"d":51.6},{"p":3567,"d":47.9},{"p":3575,"d":51.6},{"p":3587,"d":55.3},{"p":3591,"d":34.3},{"p":3599,"d":45.4},{"p":3603,"d":31.8},{"p":3611,"d":29.4},{"p":3619,"d":30.6},{"p":3631,"d":26.9},{"p":3639,"d":35.6},{"p":3643,"d":28.1},{"p":3651,"d":51.6},{"p":3659,"d":38.0},{"p":3667,"d":39.9},{"p":3679,"d":24.4},{"p":3687,"d":43.0},{"p":3691,"d":47.9},{"p":3699,"d":51.6},{"p":3707,"d":34.3},{"p":3719,"d":28.1},{"p":3731,"d":24.4},{"p":3739,"d":35.6},{"p":3747,"d":49.1},{"p":3755,"d":47.9},{"p":3763,"d":49.1},{"p":3775,"d":46.7},{"p":3779,"d":30.6},{"p":3783,"d":47.9},{"p":3791,"d":49.1},{"p":3799,"d":49.1},{"p":3807,"d":49.1},{"p":3811,"d":41.7},{"p":3819,"d":41.7},{"p":3823,"d":31.8},{"p":3831,"d":45.4},{"p":3839,"d":52.8},{"p":3847,"d":48.5},{"p":3855,"d":47.9},{"p":3863,"d":52.8},{"p":3871,"d":38.0},{"p":3879,"d":34.3},{"p":3887,"d":30.6},{"p":3895,"d":39.9},{"p":3903,"d":34.3},{"p":3911,"d":43.0},{"p":3919,"d":45.4},{"p":3927,"d":52.8},{"p":3931,"d":56.8},{"p":3939,"d":41.7},{"p":3943,"d":33.1},{"p":3951,"d":30.6},{"p":3959,"d":28.1},{"p":3967,"d":44.2},{"p":3975,"d":46.7},{"p":3983,"d":45.4},{"p":3991,"d":38.0},{"p":3999,"d":38.0},{"p":4007,"d":28.1},{"p":4015,"d":25.7},{"p":4023,"d":25.1},{"p":4031,"d":21.4},{"p":4039,"d":34.3},{"p":4047,"d":39.9},{"p":4055,"d":38.0},{"p":4063,"d":41.7},{"p":4067,"d":46.7},{"p":4071,"d":29.4},{"p":4079,"d":28.1},
{"p":4084,"d":50.4},{"p":4088,"d":41.7},{"p":4096,"d":56.5},{"p":4104,"d":65.8},{"p":4112,"d":43.6},{"p":4120,"d":62.7},{"p":4128,"d":64.0},{"p":4136,"d":60.2},{"p":4144,"d":76.9},{"p":4152,"d":65.2},{"p":4160,"d":60.2},{"p":4168,"d":47.9},{"p":4172,"d":36.8},{"p":4180,"d":49.1},{"p":4188,"d":41.7},{"p":4196,"d":53.5},{"p":4204,"d":53.5},{"p":4212,"d":40.5},{"p":4220,"d":35.6},{"p":4228,"d":34.3},{"p":4236,"d":34.3},{"p":4244,"d":34.3},{"p":4252,"d":49.1},{"p":4260,"d":55.9},{"p":4268,"d":35.6},{"p":4272,"d":21.4},{"p":4280,"d":26.9},{"p":4288,"d":43.0},{"p":4292,"d":25.7},{"p":4296,"d":41.7},{"p":4304,"d":30.6},{"p":4312,"d":36.8},{"p":4320,"d":34.3},{"p":4328,"d":25.7},{"p":4336,"d":33.1},{"p":4344,"d":62.7},{"p":4352,"d":64.0},{"p":4360,"d":60.2},{"p":4364,"d":64.0},{"p":4376,"d":70.1},{"p":4384,"d":57.8},{"p":4392,"d":60.2},{"p":4400,"d":51.6},{"p":4408,"d":47.9},{"p":4416,"d":47.9},{"p":4424,"d":33.1},{"p":4428,"d":25.7},{"p":4436,"d":35.6},{"p":4444,"d":41.7},{"p":4452,"d":40.5},{"p":4460,"d":33.1},{"p":4468,"d":31.8},{"p":4472,"d":26.9},{"p":4480,"d":31.8},{"p":4488,"d":45.4},{"p":4496,"d":50.4},{"p":4504,"d":56.5},{"p":4512,"d":43.0},{"p":4520,"d":31.8},{"p":4528,"d":31.2},{"p":4536,"d":30.6},{"p":4544,"d":47.9},{"p":4552,"d":43.0},{"p":4560,"d":30.6},{"p":4564,"d":52.8},{"p":4572,"d":52.8},{"p":4576,"d":60.2},{"p":4584,"d":64.0},{"p":4592,"d":50.4},{"p":4600,"d":45.4},{"p":4604,"d":38.0},{"p":4612,"d":34.3},{"p":4620,"d":33.1},{"p":4628,"d":57.8},{"p":4632,"d":61.5},{"p":4640,"d":43.0},{"p":4648,"d":29.4},{"p":4656,"d":30.6},{"p":4664,"d":29.4},{"p":4672,"d":28.1},{"p":4680,"d":24.4},{"p":4688,"d":35.6},{"p":4696,"d":40.5},{"p":4704,"d":40.5},{"p":4708,"d":47.9},{"p":4716,"d":48.5},{"p":4724,"d":39.9},{"p":4732,"d":47.9},{"p":4740,"d":43.0},{"p":4748,"d":31.2},{"p":4756,"d":33.1},{"p":4764,"d":45.4},{"p":4772,"d":43.0},{"p":4780,"d":46.7},{"p":4788,"d":56.5},{"p":4796,"d":45.4},{"p":4804,"d":31.8},{"p":4812,"d":50.4},{"p":4820,"d":60.2},{"p":4828,"d":40.5},{"p":4836,"d":41.7},{"p":4844,"d":40.5},{"p":4852,"d":38.0},{"p":4860,"d":49.1},{"p":4868,"d":51.6},{"p":4876,"d":54.7},{"p":4884,"d":52.8},{"p":4892,"d":33.1},{"p":4900,"d":24.4},{"p":4904,"d":20.1},{"p":4912,"d":44.2},{"p":4920,"d":53.5},{"p":4928,"d":43.0},{"p":4936,"d":33.1},{"p":4940,"d":29.4},{"p":4948,"d":40.5},{"p":4956,"d":47.9},{"p":4964,"d":39.9},{"p":4972,"d":38.0},{"p":4980,"d":34.3},{"p":4988,"d":28.1},{"p":4996,"d":39.9},{"p":5004,"d":36.8},{"p":5012,"d":28.1},{"p":5020,"d":40.5},{"p":5028,"d":35.6},{"p":5036,"d":40.5},{"p":5044,"d":40.5},{"p":5048,"d":47.9},{"p":5056,"d":40.5},{"p":5064,"d":40.5},{"p":5072,"d":39.9},{"p":5080,"d":43.0},{"p":5088,"d":59.0},{"p":5096,"d":60.9},{"p":5104,"d":49.1},{"p":5112,"d":55.3},{"p":5116,"d":62.7},{"p":5124,"d":35.6},{"p":5128,"d":30.0},{"p":5136,"d":52.8},{"p":5144,"d":40.5},{"p":5152,"d":41.7},{"p":5160,"d":30.6},{"p":5168,"d":35.6},{"p":5176,"d":40.5},{"p":5184,"d":40.5},{"p":5192,"d":43.0},{"p":5196,"d":56.5},{"p":5204,"d":60.9},{"p":5212,"d":57.8},{"p":5220,"d":59.0},{"p":5228,"d":46.7},{"p":5236,"d":41.7},{"p":5244,"d":28.1},{"p":5252,"d":29.4},{"p":5260,"d":33.1},{"p":5268,"d":34.3},{"p":5272,"d":29.4},{"p":5280,"d":26.3},{"p":5288,"d":45.4},{"p":5296,"d":43.0},{"p":5304,"d":44.2},{"p":5312,"d":51.6},{"p":5320,"d":54.7},{"p":5328,"d":49.1},{"p":5332,"d":34.3},{"p":5340,"d":40.5},{"p":5348,"d":40.5},{"p":5356,"d":49.8},{"p":5360,"d":59.0},{"p":5368,"d":43.0},{"p":5376,"d":40.5},{"p":5384,"d":31.2},{"p":5392,"d":43.0},{"p":5400,"d":58.4},{"p":5408,"d":47.9},{"p":5416,"d":31.8},{"p":5424,"d":45.4},{"p":5432,"d":44.2},{"p":5440,"d":34.3},{"p":5448,"d":31.8},{"p":5456,"d":35.6},{"p":5464,"d":28.1},{"p":5472,"d":40.5},{"p":5480,"d":38.0},{"p":5488,"d":30.6},{"p":5496,"d":34.3},{"p":5504,"d":45.4},{"p":5512,"d":40.5},{"p":5520,"d":35.6},{"p":5528,"d":36.8},{"p":5536,"d":34.3},{"p":5544,"d":30.6},{"p":5552,"d":45.4},{"p":5560,"d":31.8},{"p":5564,"d":26.9},{"p":5572,"d":33.1},{"p":5580,"d":33.1},{"p":5588,"d":35.6},{"p":5596,"d":35.6},{"p":5604,"d":46.7},{"p":5612,"d":51.6},{"p":5620,"d":61.5},
{"p":5627,"d":60.2},{"p":5635,"d":30.6},{"p":5643,"d":52.8},{"p":5647,"d":65.2},{"p":5655,"d":70.1},{"p":5659,"d":72.6},{"p":5667,"d":52.8},{"p":5675,"d":40.5},{"p":5683,"d":46.7},{"p":5691,"d":29.4},{"p":5699,"d":30.6},{"p":5707,"d":29.4},{"p":5715,"d":28.1},{"p":5723,"d":28.1},{"p":5727,"d":23.2},{"p":5735,"d":40.5},{"p":5743,"d":48.5},{"p":5751,"d":33.1},{"p":5755,"d":25.7},{"p":5763,"d":34.3},{"p":5771,"d":40.5},{"p":5779,"d":41.7},{"p":5787,"d":41.7},{"p":5795,"d":54.1},{"p":5803,"d":54.1},{"p":5811,"d":44.2},{"p":5819,"d":54.1},{"p":5823,"d":55.3},{"p":5831,"d":36.8},{"p":5839,"d":55.3},{"p":5847,"d":45.4},{"p":5855,"d":31.8},{"p":5863,"d":43.0},{"p":5867,"d":48.5},{"p":5875,"d":35.6},{"p":5883,"d":31.8},{"p":5891,"d":28.1},{"p":5895,"d":20.7},{"p":5899,"d":8.4},{"p":5903,"d":11.9},{"p":5911,"d":23.2},{"p":5919,"d":24.4},{"p":5927,"d":35.6},{"p":5931,"d":43.0},{"p":5939,"d":38.0},{"p":5947,"d":25.7},{"p":5955,"d":36.8},{"p":5959,"d":44.2},{"p":5967,"d":47.9},{"p":5975,"d":35.6},{"p":5983,"d":50.4},{"p":5991,"d":57.8},{"p":5995,"d":40.5},{"p":6003,"d":40.5},{"p":6011,"d":34.3},{"p":6019,"d":33.1},{"p":6027,"d":33.1},{"p":6035,"d":35.6},{"p":6039,"d":46.7},{"p":6047,"d":50.4},{"p":6051,"d":60.2},{"p":6059,"d":65.2},{"p":6067,"d":50.4},{"p":6075,"d":38.0},{"p":6083,"d":51.6},{"p":6091,"d":62.1},{"p":6099,"d":52.8},{"p":6107,"d":65.2},{"p":6111,"d":72.6},{"p":6115,"d":65.2},{"p":6119,"d":47.9},{"p":6127,"d":47.9},{"p":6135,"d":45.4},{"p":6139,"d":41.7},{"p":6147,"d":45.4},{"p":6155,"d":40.5},{"p":6163,"d":38.0},{"p":6167,"d":28.1},{"p":6175,"d":50.4},{"p":6183,"d":49.1},{"p":6191,"d":52.8},{"p":6195,"d":59.0},{"p":6203,"d":45.4},{"p":6211,"d":43.0},{"p":6219,"d":36.8},{"p":6227,"d":26.9},{"p":6235,"d":40.5},{"p":6243,"d":36.8},{"p":6247,"d":26.9},{"p":6255,"d":29.4},{"p":6263,"d":28.1},{"p":6271,"d":47.9},{"p":6279,"d":49.1},{"p":6287,"d":34.3},{"p":6295,"d":46.7},{"p":6303,"d":47.9},{"p":6311,"d":36.8},{"p":6319,"d":35.6},{"p":6327,"d":46.7},{"p":6335,"d":47.9},{"p":6343,"d":34.3},{"p":6351,"d":35.6},{"p":6359,"d":31.8},{"p":6363,"d":24.4},{"p":6371,"d":41.7},{"p":6379,"d":33.1},{"p":6387,"d":28.1},{"p":6395,"d":22.6},{"p":6403,"d":40.5},{"p":6411,"d":45.4},{"p":6419,"d":35.6},{"p":6427,"d":29.4},{"p":6435,"d":45.4},{"p":6443,"d":51.6},{"p":6451,"d":56.5},{"p":6455,"d":67.7},{"p":6463,"d":57.8},{"p":6471,"d":40.5},{"p":6479,"d":46.7},{"p":6487,"d":39.9},{"p":6495,"d":51.6},{"p":6503,"d":49.1},{"p":6511,"d":59.0},{"p":6515,"d":65.2},{"p":6523,"d":52.8},{"p":6527,"d":61.5},{"p":6535,"d":49.1},{"p":6543,"d":40.5},{"p":6551,"d":46.7},{"p":6559,"d":47.9},{"p":6563,"d":59.0},{"p":6571,"d":44.2},{"p":6575,"d":59.0},{"p":6583,"d":51.6},{"p":6591,"d":35.6},{"p":6599,"d":46.7},{"p":6607,"d":47.9},{"p":6615,"d":45.4},{"p":6623,"d":51.6},{"p":6631,"d":43.0},{"p":6639,"d":43.8},{"p":6643,"d":54.1},{"p":6651,"d":51.6},{"p":6659,"d":50.4},{"p":6667,"d":40.5},{"p":6675,"d":39.9},{"p":6683,"d":35.6},{"p":6691,"d":23.2},{"p":6695,"d":22.0},{"p":6703,"d":40.5},{"p":6707,"d":47.9},{"p":6715,"d":30.6},{"p":6719,"d":18.3},{"p":6723,"d":9.6},{"p":6727,"d":9.0},{"p":6731,"d":19.5},{"p":6739,"d":25.7},{"p":6747,"d":33.1},{"p":6755,"d":34.3},{"p":6763,"d":36.8},{"p":6771,"d":40.5},{"p":6775,"d":50.4},{"p":6779,"d":55.3},{"p":6787,"d":50.4},{"p":6795,"d":38.0},{"p":6803,"d":36.8},{"p":6807,"d":54.1},{"p":6811,"d":56.5},{"p":6819,"d":55.3},{"p":6827,"d":50.4},{"p":6831,"d":60.2},{"p":6839,"d":41.7},{"p":6847,"d":31.8},{"p":6855,"d":47.9},{"p":6863,"d":50.4},{"p":6867,"d":34.3},{"p":6875,"d":49.1},{"p":6883,"d":51.6},{"p":6887,"d":60.2},{"p":6895,"d":62.7},{"p":6899,"d":67.0},{"p":6903,"d":52.8},{"p":6911,"d":50.4},{"p":6919,"d":47.9},{"p":6927,"d":49.1},{"p":6935,"d":51.0},{"p":6943,"d":46.7},{"p":6951,"d":49.1},{"p":6959,"d":50.4},{"p":6967,"d":55.3},{"p":6975,"d":40.5},{"p":6983,"d":30.6},{"p":6991,"d":52.8},{"p":6995,"d":59.0},{"p":7003,"d":49.1},{"p":7011,"d":60.2},{"p":7015,"d":66.4},{"p":7023,"d":49.1},{"p":7031,"d":39.9},{"p":7039,"d":39.9},{"p":7047,"d":51.6},{"p":7055,"d":49.1},{"p":7063,"d":29.4},{"p":7071,"d":33.1},{"p":7079,"d":30.6},{"p":7087,"d":33.1},{"p":7095,"d":30.6},{"p":7103,"d":29.4},{"p":7111,"d":39.9},{"p":7115,"d":28.1},{"p":7123,"d":43.0},{"p":7131,"d":40.5},{"p":7135,"d":49.1},{"p":7143,"d":47.9},{"p":7147,"d":40.5},{"p":7149,"d":44.2}
]
},
"hconcat": [
{
"width": 341, "height": 1500,
"view": {"fill": "black", "stroke": null},
"data": {"values": [{"track": "Gene"}, {"track": "TAC245"}, {"track": "TAC265"}]},
"mark": {"type": "text", "angle": 270, "color": "white", "fontSize": 94, "align": "center", "baseline": "middle", "font": "Liberation Sans"},
"encoding": {
"y": {"field": "track", "type": "nominal", "scale": {"type": "point", "padding": 0.5, "domain": ["Gene", "TAC245", "TAC265"]}, "axis": null},
"text": {"field": "track", "type": "nominal"}
}
},
{
"bounds": "flush",
"spacing": 48.5,
"vconcat": [
{
"width": 10, "height": 146.5,
"view": {"stroke": null},
"data": {"values": []},
"mark": "point",
"encoding": {}
},
{
"width": 3260, "height": 276,
"layer": [
{
"data": {"values": [{"gene": "uc007aya.1", "start": 1024, "end": 7140}]},
"mark": {"type": "rule", "color": "black", "strokeWidth": 4, "strokeCap": "butt"},
"encoding": {
"x": {"field": "start", "type": "quantitative", "scale": {"domain": [640.4, 7517.5], "nice": false, "zero": false},
"axis": {"title": null, "labels": false, "ticks": false, "domain": false, "grid": true, "gridColor": "#EBEBEB",
"values": [950.5, 1672, 2393.5, 3115, 3836.5, 4558, 5279.5, 6001, 6722.5, 7444],
"gridWidth": {"condition": {"test": "indexof([950.5, 2393.5, 3836.5, 5279.5, 6722.5], datum.value) >= 0", "value": 3.4}, "value": 1.7}}},
"x2": {"field": "end"},
"y": {"datum": 0, "type": "quantitative", "scale": {"domain": [-1.1, 1.1], "nice": false, "zero": false},
"axis": {"title": null, "labels": false, "ticks": false, "domain": false, "grid": true, "gridColor": "#EBEBEB",
"values": [-1, -0.75, -0.5, -0.25, 0, 0.25, 0.5, 0.75, 1],
"gridWidth": {"condition": {"test": "datum.value % 0.5 === 0", "value": 3.4}, "value": 1.7}}}
}
},
{
"data": {"name": "exons"},
"transform": [{"filter": "datum.type === 'CDS'"}],
"mark": {"type": "rect", "strokeWidth": 0},
"encoding": {
"x": {"field": "start", "type": "quantitative"},
"x2": {"field": "end"},
"y": {"datum": -1, "type": "quantitative"},
"y2": {"datum": 1},
"color": {"field": "GC", "type": "quantitative",
"scale": {"domain": [0.331, 0.67], "range": ["#202A3F", "#7AACF0"], "interpolate": "lab"},
"legend": {"orient": "none", "legendX": 1912, "legendY": 38, "direction": "horizontal", "title": "GC", "titleOrient": "left", "titleFontSize": 37.5, "titleFontWeight": "normal", "titleColor": "black", "titlePadding": 17, "titleAnchor": "middle", "titleBaseline": "top", "gradientLength": 301, "gradientThickness": 60, "gradientStrokeWidth": 0, "labelFontSize": 30, "labelColor": "black", "labelOffset": 11, "format": ".1f", "values": [0.4, 0.5, 0.6], "padding": 0}}
}
},
{
"data": {"name": "exons"},
"transform": [{"filter": "datum.type === 'UTR'"}],
"mark": {"type": "rect", "strokeWidth": 0},
"encoding": {
"x": {"field": "start", "type": "quantitative"},
"x2": {"field": "end"},
"y": {"datum": -0.5, "type": "quantitative"},
"y2": {"datum": 0.5},
"color": {"field": "GC", "type": "quantitative",
"scale": {"domain": [0.331, 0.67], "range": ["#202A3F", "#7AACF0"], "interpolate": "lab"},
"legend": {"orient": "none", "legendX": 1912, "legendY": 38, "direction": "horizontal", "title": "GC", "titleOrient": "left", "titleFontSize": 37.5, "titleFontWeight": "normal", "titleColor": "black", "titlePadding": 17, "titleAnchor": "middle", "titleBaseline": "top", "gradientLength": 301, "gradientThickness": 60, "gradientStrokeWidth": 0, "labelFontSize": 30, "labelColor": "black", "labelOffset": 11, "format": ".1f", "values": [0.4, 0.5, 0.6], "padding": 0}}
}
},
{
"data": {"values": [{"gene": "uc007aya.1", "start": 1024}]},
"mark": {"type": "text", "angle": 270, "align": "center", "baseline": "bottom", "fontSize": 36, "color": "black"},
"encoding": {
"x": {"field": "start", "type": "quantitative"},
"y": {"datum": 0, "type": "quantitative"},
"text": {"field": "gene", "type": "nominal"}
}
}
]
},
{
"width": 3260, "height": 451,
"data": {"name": "t245"},
"mark": {"type": "line", "color": "#0000FF", "strokeWidth": 3.5, "strokeJoin": "round"},
"encoding": {
"x": {"field": "p", "type": "quantitative", "scale": {"domain": [640.4, 7517.5], "nice": false, "zero": false},
"axis": {"title": null, "labels": false, "ticks": false, "domain": false, "grid": true, "gridColor": "#EBEBEB",
"values": [950.5, 1672, 2393.5, 3115, 3836.5, 4558, 5279.5, 6001, 6722.5, 7444],
"gridWidth": {"condition": {"test": "indexof([950.5, 2393.5, 3836.5, 5279.5, 6722.5], datum.value) >= 0", "value": 3.4}, "value": 1.7}}},
"y": {"field": "d", "type": "quantitative", "scale": {"domain": [-2.8, 58.8], "nice": false, "zero": false},
"axis": {"title": "Coverage Depth", "titleFontSize": 37.5, "titleFontWeight": "normal", "titleColor": "black", "titlePadding": 22,
"values": [0, 10, 20, 30, 40, 50], "labelExpr": "datum.value % 20 === 0 ? datum.label : ''",
"labelFontSize": 30.5, "labelColor": "#4D4D4D", "labelPadding": 9, "tickSize": 10, "tickWidth": 3.4, "tickColor": "#333333",
"tickOpacity": {"condition": {"test": "datum.value % 20 === 0", "value": 1}, "value": 0},
"domain": false, "grid": true, "gridColor": "#EBEBEB",
"gridWidth": {"condition": {"test": "datum.value % 20 === 0", "value": 3.4}, "value": 1.7}}}
}
},
{
"width": 3260, "height": 451,
"data": {"name": "t265"},
"mark": {"type": "line", "color": "#0000FF", "strokeWidth": 3.5, "strokeJoin": "round"},
"encoding": {
"x": {"field": "p", "type": "quantitative", "scale": {"domain": [640.4, 7517.5], "nice": false, "zero": false},
"axis": {"title": null, "labels": false, "ticks": false, "domain": false, "grid": true, "gridColor": "#EBEBEB",
"values": [950.5, 1672, 2393.5, 3115, 3836.5, 4558, 5279.5, 6001, 6722.5, 7444],
"gridWidth": {"condition": {"test": "indexof([950.5, 2393.5, 3836.5, 5279.5, 6722.5], datum.value) >= 0", "value": 3.4}, "value": 1.7}}},
"y": {"field": "d", "type": "quantitative", "scale": {"domain": [-4.15, 87.15], "nice": false, "zero": false},
"axis": {"title": "Coverage Depth", "titleFontSize": 37.5, "titleFontWeight": "normal", "titleColor": "black", "titlePadding": 22,
"values": [0, 10, 20, 30, 40, 50, 60, 70, 80], "labelExpr": "datum.value % 20 === 0 ? datum.label : ''",
"labelFontSize": 30.5, "labelColor": "#4D4D4D", "labelPadding": 9, "tickSize": 10, "tickWidth": 3.4, "tickColor": "#333333",
"tickOpacity": {"condition": {"test": "datum.value % 20 === 0", "value": 1}, "value": 0},
"domain": false, "grid": true, "gridColor": "#EBEBEB",
"gridWidth": {"condition": {"test": "datum.value % 20 === 0", "value": 3.4}, "value": 1.7}}}
}
}
]
}
]
}
